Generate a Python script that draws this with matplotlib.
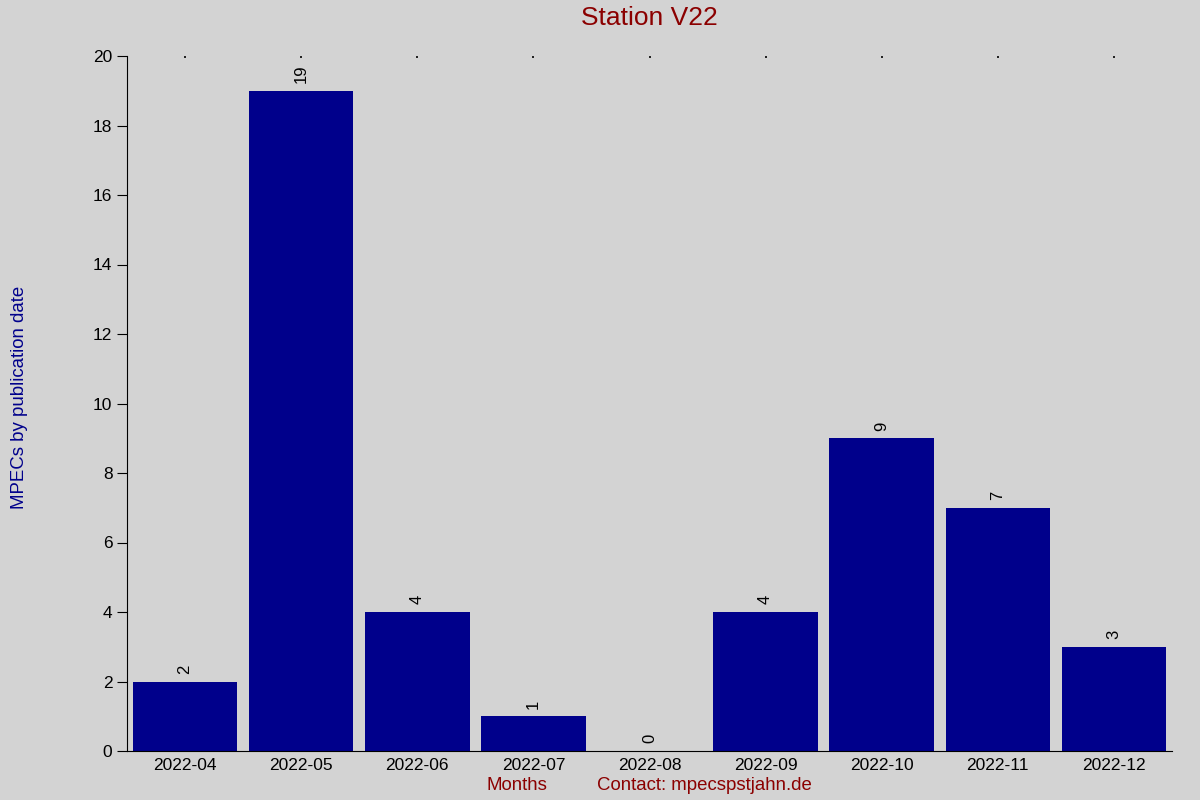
import matplotlib.pyplot as plt

months = ['2022-04', '2022-05', '2022-06', '2022-07', '2022-08',
          '2022-09', '2022-10', '2022-11', '2022-12']
mpecs = [2, 19, 4, 1, 0, 4, 9, 7, 3]

plt.rcParams['font.family'] = ['Liberation Sans', 'DejaVu Sans']

fig = plt.figure(figsize=(12, 8), dpi=100, facecolor='lightgray')
ax = fig.add_axes([0.1058, 0.06125, 0.8709, 0.86875], facecolor='lightgray')

x = range(len(months))
ax.bar(x, mpecs, width=0.9, color='darkblue')
for xi, v in zip(x, mpecs):
    ax.text(xi, v + 0.22, str(v), rotation=90, ha='center', va='bottom', fontsize=12)

ax.set_xlim(-0.5, len(months) - 0.5)
ax.set_ylim(0, 20)
ax.set_yticks(range(0, 21, 2))
ax.set_xticks(list(x))
ax.set_xticklabels(months, fontsize=12.5)
ax.tick_params(axis='y', labelsize=12.5, length=7, direction='out')
ax.tick_params(axis='x', bottom=False, top=True, labelbottom=True, labeltop=False,
               length=1.2, width=1.2, direction='in', pad=5)

for side in ['top', 'right']:
    ax.spines[side].set_visible(False)

fig.text(0.541, 0.9775, 'Station V22', color='darkred', fontsize=19,
         ha='center', va='center')
fig.text(0.009, 0.503, 'MPECs by publication date', rotation=90, color='darkblue',
         fontsize=13.4, ha='left', va='center')
fig.text(0.431, 0.018, 'Months', color='darkred', fontsize=13.4, ha='center', va='center')
fig.text(0.587, 0.018, 'Contact: mpecspstjahn.de', color='darkred', fontsize=13.4,
         ha='center', va='center')

fig.savefig('out.png', facecolor='lightgray')
